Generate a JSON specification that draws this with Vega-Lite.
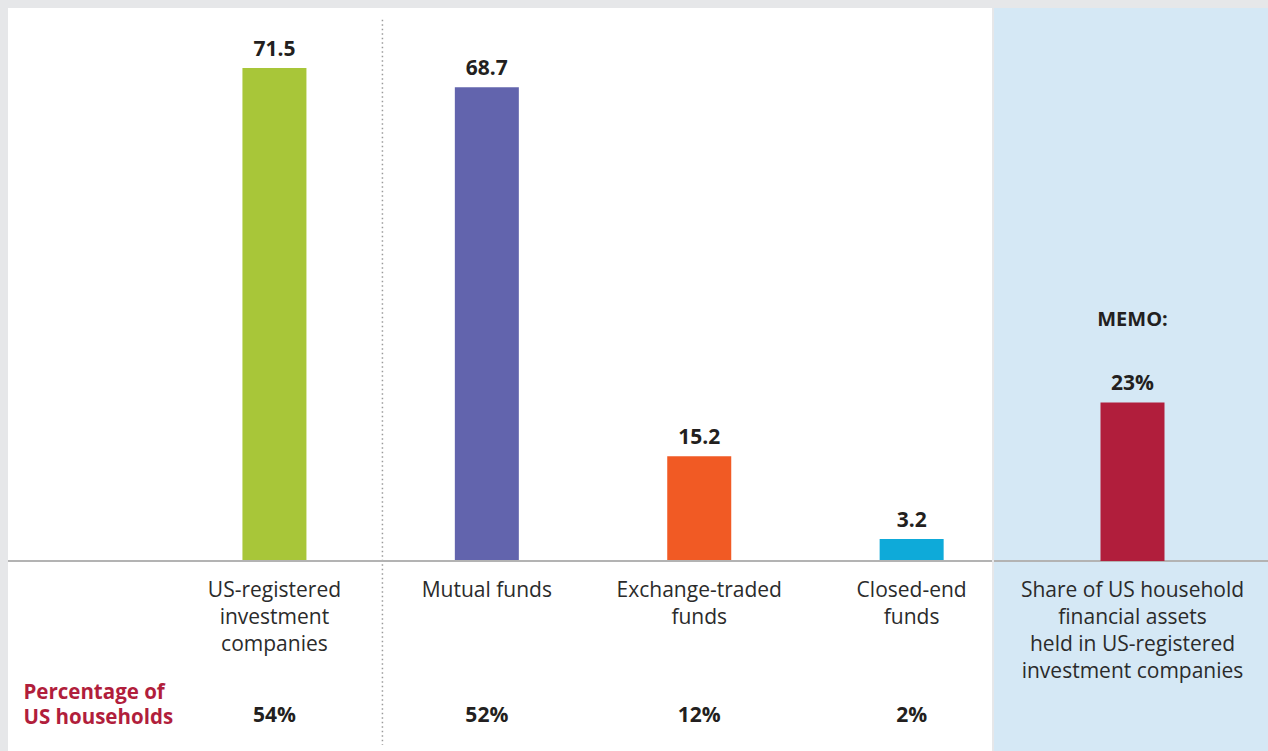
{
  "$schema": "https://vega.github.io/schema/vega-lite/v6.json",
  "background": "#e6e7e9",
  "padding": {"left": 7, "top": 8, "right": 0, "bottom": 0},
  "spacing": 0,
  "config": {"view": {"stroke": null}, "font": "Open Sans"},
  "hconcat": [
    {
      "width": 984,
      "height": 743,
      "view": {"fill": "#ffffff"},
      "data": {"values": [
        {"category": "US-registered investment companies", "label": "US-registered\ninvestment\ncompanies", "assets": 71.5, "households": "54%"},
        {"category": "Mutual funds", "label": "Mutual funds", "assets": 68.7, "households": "52%"},
        {"category": "Exchange-traded funds", "label": "Exchange-traded\nfunds", "assets": 15.2, "households": "12%"},
        {"category": "Closed-end funds", "label": "Closed-end\nfunds", "assets": 3.2, "households": "2%"}
      ]},
      "layer": [
        {
          "mark": {"type": "bar", "width": 64},
          "encoding": {
            "x": {"field": "category", "type": "nominal", "sort": null, "axis": null,
                  "scale": {"domain": ["US-registered investment companies", "Mutual funds", "Exchange-traded funds", "Closed-end funds"], "paddingInner": 0.6987, "paddingOuter": 0.6657, "align": 0.829}},
            "y": {"field": "assets", "type": "quantitative", "axis": null, "scale": {"domain": [-27.56, 80.2], "nice": false, "zero": false}},
            "y2": {"datum": 0},
            "color": {"field": "category", "type": "nominal", "legend": null,
                      "scale": {"domain": ["US-registered investment companies", "Mutual funds", "Exchange-traded funds", "Closed-end funds"], "range": ["#a8c639", "#6264ad", "#f15a24", "#0eaad9"]}}
          }
        },
        {
          "mark": {"type": "text", "baseline": "alphabetic", "dy": -12, "fontSize": 21, "fontWeight": "bold", "color": "#231f20"},
          "encoding": {
            "x": {"field": "category", "type": "nominal", "sort": null},
            "y": {"field": "assets", "type": "quantitative"},
            "text": {"field": "assets", "type": "quantitative", "format": ".1f"}
          }
        },
        {
          "mark": {"type": "text", "baseline": "top", "lineBreak": "\n", "lineHeight": 27, "fontSize": 21, "color": "#2b2b2b"},
          "encoding": {
            "x": {"field": "category", "type": "nominal", "sort": null},
            "y": {"datum": -2.8},
            "text": {"field": "label", "type": "nominal"}
          }
        },
        {
          "mark": {"type": "text", "baseline": "middle", "fontSize": 21, "fontWeight": "bold", "color": "#231f20"},
          "encoding": {
            "x": {"field": "category", "type": "nominal", "sort": null},
            "y": {"datum": -22.5},
            "text": {"field": "households", "type": "nominal"}
          }
        },
        {
          "data": {"values": [{"note": "Percentage of\nUS households", "anchor": "US-registered investment companies"}]},
          "mark": {"type": "text", "align": "left", "baseline": "middle", "lineBreak": "\n", "lineHeight": 25, "dx": -251, "fontSize": 20.5, "fontWeight": "bold", "color": "#b11e3c"},
          "encoding": {
            "x": {"field": "anchor", "type": "nominal"},
            "y": {"datum": -19.2},
            "text": {"field": "note", "type": "nominal"}
          }
        },
        {
          "data": {"values": [{"anchor": "US-registered investment companies", "top": 78.5, "bottom": -26.7}]},
          "mark": {"type": "rule", "color": "#9a9a9a", "strokeWidth": 1.5, "strokeDash": [1.5, 3], "xOffset": 108},
          "encoding": {
            "x": {"field": "anchor", "type": "nominal"},
            "y": {"field": "top", "type": "quantitative"},
            "y2": {"field": "bottom"}
          }
        },
        {
          "data": {"values": [{"zero": 0}]},
          "mark": {"type": "rule", "color": "#b3b3b3", "strokeWidth": 2},
          "encoding": {"y": {"field": "zero", "type": "quantitative"}}
        }
      ]
    },
    {
      "width": 277,
      "height": 743,
      "view": {"fill": "#d5e8f5"},
      "data": {"values": [
        {"category": "Share of US household financial assets held in US-registered investment companies", "label": "Share of US household\nfinancial assets\nheld in US-registered\ninvestment companies", "share": 23, "shareLabel": "23%", "memo": "MEMO:", "memoPos": 34.1}
      ]},
      "layer": [
        {
          "data": {"values": [{"zero": 0}]},
          "mark": {"type": "rule", "color": "#b3b3b3", "strokeWidth": 2},
          "encoding": {"y": {"field": "zero", "type": "quantitative", "axis": null, "scale": {"domain": [-27.56, 80.2], "nice": false, "zero": false}}}
        },
        {
          "mark": {"type": "bar", "width": 64, "color": "#b11e3c"},
          "encoding": {
            "x": {"field": "category", "type": "nominal", "axis": null, "scale": {"paddingInner": 0, "paddingOuter": 0}},
            "y": {"field": "share", "type": "quantitative"},
            "y2": {"datum": 0}
          }
        },
        {
          "mark": {"type": "text", "baseline": "alphabetic", "dy": -12, "fontSize": 21, "fontWeight": "bold", "color": "#231f20"},
          "encoding": {
            "x": {"field": "category", "type": "nominal"},
            "y": {"field": "share", "type": "quantitative"},
            "text": {"field": "shareLabel", "type": "nominal"}
          }
        },
        {
          "mark": {"type": "text", "baseline": "alphabetic", "fontSize": 20, "fontWeight": "bold", "color": "#231f20"},
          "encoding": {
            "x": {"field": "category", "type": "nominal"},
            "y": {"field": "memoPos", "type": "quantitative"},
            "text": {"field": "memo", "type": "nominal"}
          }
        },
        {
          "mark": {"type": "text", "baseline": "top", "lineBreak": "\n", "lineHeight": 27, "fontSize": 21, "color": "#2b2b2b"},
          "encoding": {
            "x": {"field": "category", "type": "nominal"},
            "y": {"datum": -2.8},
            "text": {"field": "label", "type": "nominal"}
          }
        }
      ]
    }
  ]
}
